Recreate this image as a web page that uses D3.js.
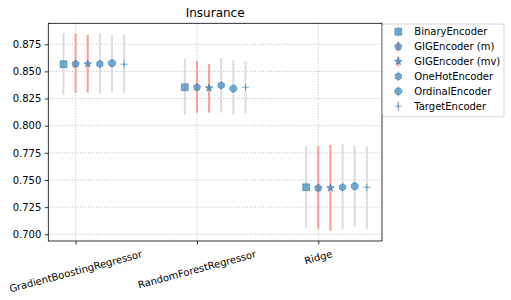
<!DOCTYPE html>
<html>
<head>
<meta charset="utf-8">
<script src="https://cdn.jsdelivr.net/npm/d3@7"></script>
<style>
  body { margin: 0; background: #fff; }
  svg { font-family: "DejaVu Sans", sans-serif; }
</style>
</head>
<body>
<div id="chart"></div>
<script>
// data
var models = ["GradientBoostingRegressor", "RandomForestRegressor", "Ridge"];
var encoders = ["BinaryEncoder", "GIGEncoder (m)", "GIGEncoder (mv)", "OneHotEncoder", "OrdinalEncoder", "TargetEncoder"];
// mean score per encoder, one row per model
var means = [
  [0.8566, 0.8569, 0.8569, 0.8569, 0.8575, 0.8566],
  [0.8354, 0.8354, 0.8347, 0.8372, 0.8341, 0.8354],
  [0.7433, 0.7426, 0.7426, 0.7433, 0.7442, 0.7433]
];
var lows = [
  [0.8286, 0.8304, 0.8304, 0.8295, 0.8311, 0.8304],
  [0.8102, 0.8120, 0.8120, 0.8120, 0.8102, 0.8111],
  [0.7061, 0.7049, 0.7033, 0.7042, 0.7070, 0.7051]
];
var highs = [
  [0.8854, 0.8848, 0.8836, 0.8854, 0.8836, 0.8836],
  [0.8615, 0.8596, 0.8568, 0.8624, 0.8605, 0.8596],
  [0.7813, 0.7813, 0.7822, 0.7829, 0.7822, 0.7813]
];
var offsets = [-0.1, 0, 0.1, 0.2, 0.3, 0.4];
var yTicks = [0.700, 0.725, 0.750, 0.775, 0.800, 0.825, 0.850, 0.875];

var W = 511, H = 300;
var margins = { top: 23.3, right: 129, bottom: 59, left: 48.3 };
var width = W - margins.left - margins.right;
var height = H - margins.top - margins.bottom;

var blue = "#1f77b4";
var barColor = function (i) { return (i === 1 || i === 2) ? "#ff9a9a" : "#dcdcdc"; };

var svg = d3.select("#chart").append("svg")
  .attr("width", W).attr("height", H);

var g = svg.append("g")
  .attr("transform", "translate(" + margins.left + "," + margins.top + ")");

var x = d3.scaleLinear().domain([-0.225, 2.525]).range([0, width]);
var y = d3.scaleLinear().domain([0.6938, 0.8943]).range([height, 0]);

// grid
g.append("g").selectAll("line").data(yTicks).enter().append("line")
  .attr("x1", 0).attr("x2", width)
  .attr("y1", function (d) { return y(d); }).attr("y2", function (d) { return y(d); })
  .attr("stroke", "#b0b0b0").attr("stroke-width", 0.8).attr("stroke-dasharray", "1,1.65");
g.append("g").selectAll("line").data(models).enter().append("line")
  .attr("y1", 0).attr("y2", height)
  .attr("x1", function (d, i) { return x(i); }).attr("x2", function (d, i) { return x(i); })
  .attr("stroke", "#b0b0b0").attr("stroke-width", 0.8).attr("stroke-dasharray", "1,1.65");

// marker shapes
function poly(n, r, rot) {
  var p = d3.path();
  d3.range(n).forEach(function (k) {
    var a = rot + k * 2 * Math.PI / n;
    var px = r * Math.sin(a), py = -r * Math.cos(a);
    if (k === 0) p.moveTo(px, py); else p.lineTo(px, py);
  });
  p.closePath();
  return p.toString();
}
var shapes = [
  d3.symbol().type(d3.symbolSquare).size(46)(),
  poly(5, 3.8, 0),
  d3.symbol().type(d3.symbolStar).size(17)(),
  poly(6, 3.6, 0),
  poly(8, 3.7, Math.PI / 8),
  "M-3.6,0L3.6,0M0,-3.6L0,3.6"
];

function drawMarker(sel, i) {
  if (i === 5) {
    sel.append("path").attr("d", shapes[i])
      .attr("fill", "none").attr("stroke", blue).attr("stroke-opacity", 0.6).attr("stroke-width", 1);
  } else {
    sel.append("path").attr("d", shapes[i])
      .attr("fill", blue).attr("fill-opacity", 0.6)
      .attr("stroke", blue).attr("stroke-opacity", 0.6).attr("stroke-width", 1);
  }
}

// error bars and markers
models.forEach(function (m, mi) {
  encoders.forEach(function (e, ei) {
    var cx = x(mi + offsets[ei]);
    g.append("line")
      .attr("x1", cx).attr("x2", cx)
      .attr("y1", y(lows[mi][ei])).attr("y2", y(highs[mi][ei]))
      .attr("stroke", barColor(ei)).attr("stroke-width", 2);
    var mk = g.append("g").attr("transform", "translate(" + cx + "," + y(means[mi][ei]) + ")");
    drawMarker(mk, ei);
  });
});

// axes
var yAxis = g.append("g")
  .call(d3.axisLeft(y).tickValues(yTicks).tickFormat(d3.format(".3f")).tickSize(3.5).tickPadding(3.5));
var xAxis = g.append("g").attr("transform", "translate(0," + height + ")")
  .call(d3.axisBottom(x).tickValues([0, 1, 2]).tickFormat("").tickSize(3.5));
[yAxis, xAxis].forEach(function (a) {
  a.select(".domain").remove();
  a.selectAll("line").attr("stroke", "#000").attr("stroke-width", 0.8);
  a.selectAll("text").attr("font-size", 10).attr("fill", "#000").attr("font-family", "DejaVu Sans");
});

// frame
g.append("rect").attr("width", width).attr("height", height)
  .attr("fill", "none").attr("stroke", "#000").attr("stroke-width", 0.8);

// rotated category labels
var theta = 15 * Math.PI / 180;
models.forEach(function (m, i) {
  var t = g.append("text")
    .attr("font-size", 10).attr("text-anchor", "middle").attr("dominant-baseline", "central")
    .attr("fill", "#000").text(m);
  var w = t.node().getComputedTextLength();
  var bh = w * Math.sin(theta) + 11.6 * Math.cos(theta);
  var cy = height + 7 + bh / 2;
  t.attr("transform", "translate(" + x(i) + "," + cy + ") rotate(-15)");
});

// title
svg.append("text")
  .attr("x", margins.left + width / 2).attr("y", 17)
  .attr("text-anchor", "middle").attr("font-size", 12).text("Insurance");

// legend
var lg = svg.append("g").attr("transform", "translate(382.7,24)");
lg.append("rect").attr("width", 121.3).attr("height", 92.7).attr("rx", 2)
  .attr("fill", "#fff").attr("fill-opacity", 0.8).attr("stroke", "#cccccc").attr("stroke-width", 0.8);
encoders.forEach(function (e, i) {
  var row = lg.append("g").attr("transform", "translate(0," + (7.7 + i * 14.9) + ")");
  row.append("line").attr("x1", 15.6).attr("x2", 15.6).attr("y1", -5).attr("y2", 5)
    .attr("stroke", barColor(i)).attr("stroke-width", 2);
  var mk = row.append("g").attr("transform", "translate(15.6,0)");
  drawMarker(mk, i);
  row.append("text").attr("x", 31.6).attr("y", 0).attr("dominant-baseline", "central")
    .attr("font-size", 10).text(e);
});
</script>
</body>
</html>
